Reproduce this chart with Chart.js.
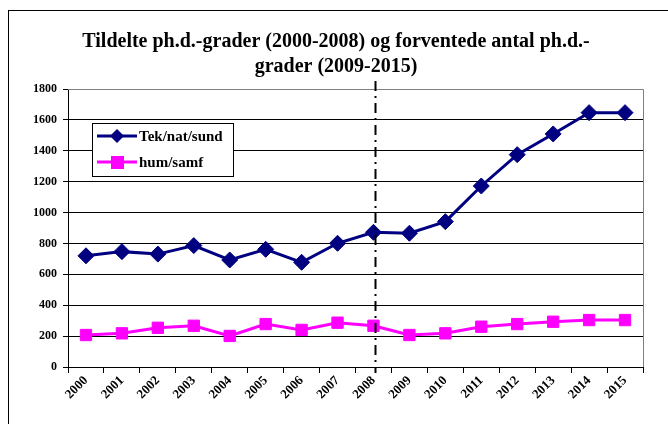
<!DOCTYPE html>
<html>
<head>
<meta charset="utf-8">
<script src="https://cdn.jsdelivr.net/npm/chart.js@4"></script>
<style>
  html, body { margin: 0; padding: 0; background: #fff; }
  #wrap { width: 668px; height: 424px; }
</style>
</head>
<body>
<div id="wrap"><canvas id="phdChart" width="668" height="424"></canvas></div>
<script>
// Years on the x axis
const years = ["2000", "2001", "2002", "2003", "2004", "2005", "2006", "2007",
    "2008", "2009", "2010", "2011", "2012", "2013", "2014", "2015"];
// Tek/nat/sund series
const tekValues = [720, 747, 731, 786, 693, 762, 678, 801, 872, 866, 941, 1172, 1375, 1509, 1647, 1647];
// hum/samf series
const humValues = [207, 218, 254, 267, 201, 278, 240, 287, 267, 207, 218, 261, 278, 293, 304, 304];
const yTicks = [0, 200, 400, 600, 800, 1000, 1200, 1400, 1600, 1800];
const titleLines = ["Tildelte ph.d.-grader (2000-2008) og forventede antal ph.d.-", "grader (2009-2015)"];
const dividerIndex = 8; // 2008: end of actual figures

const serif = "'Liberation Serif', 'Times New Roman', serif";

// frame, title, legend and the dash-dot divider
const decorPlugin = {
    id: "decor",
    beforeDraw(chart) {
        const ctx = chart.ctx;
        ctx.save();
        ctx.fillStyle = "#fff";
        ctx.fillRect(0, 0, chart.width, chart.height);
        ctx.strokeStyle = "#000";
        ctx.lineWidth = 1;
        ctx.strokeRect(8.5, 10.5, 720, 500);
        ctx.fillStyle = "#000";
        ctx.font = "bold 20px " + serif;
        ctx.textAlign = "center";
        ctx.textBaseline = "middle";
        ctx.fillText(titleLines[0], 336, 42);
        ctx.fillText(titleLines[1], 336, 67);
        ctx.restore();
    },
    afterDatasetsDraw(chart) {
        const ctx = chart.ctx;
        const area = chart.chartArea;
        ctx.save();
        // plot border (top and right) in gray
        ctx.strokeStyle = "#808080";
        ctx.lineWidth = 1;
        ctx.beginPath();
        ctx.moveTo(area.left, area.top + 0.5);
        ctx.lineTo(area.right + 0.5, area.top + 0.5);
        ctx.lineTo(area.right + 0.5, area.bottom);
        ctx.stroke();

        // divider line
        const x = Math.round(chart.scales.x.getPixelForValue(dividerIndex)) + 2.5;
        ctx.strokeStyle = "#000";
        ctx.lineWidth = 2;
        ctx.setLineDash([10, 5, 2, 5]);
        ctx.beginPath();
        ctx.moveTo(x, area.top - 8);
        ctx.lineTo(x, area.bottom + 6);
        ctx.stroke();
        ctx.setLineDash([]);

        // legend box
        ctx.fillStyle = "#fff";
        ctx.fillRect(92, 123, 141, 53);
        ctx.lineWidth = 1;
        ctx.strokeStyle = "#000";
        ctx.strokeRect(92.5, 123.5, 141, 53);
        const rows = [
            { ds: chart.data.datasets[0], y: 136 },
            { ds: chart.data.datasets[1], y: 162 },
        ];
        rows.forEach((r) => {
            ctx.strokeStyle = r.ds.borderColor;
            ctx.lineWidth = 3;
            ctx.beginPath();
            ctx.moveTo(97, r.y);
            ctx.lineTo(137, r.y);
            ctx.stroke();
            ctx.fillStyle = r.ds.pointBackgroundColor;
            ctx.beginPath();
            if (r.ds.pointStyle === "rectRot") {
                ctx.moveTo(117, r.y - 7);
                ctx.lineTo(124, r.y);
                ctx.lineTo(117, r.y + 7);
                ctx.lineTo(110, r.y);
                ctx.closePath();
            } else {
                ctx.rect(111, r.y - 6, 13, 13);
            }
            ctx.fill();
            ctx.fillStyle = "#000";
            ctx.font = "bold 15px " + serif;
            ctx.textAlign = "left";
            ctx.textBaseline = "middle";
            ctx.fillText(r.ds.label, 139, r.y + 1);
        });
        ctx.restore();
    },
};

new Chart(document.getElementById("phdChart").getContext("2d"), {
    type: "line",
    data: {
        labels: years,
        datasets: [
            {
                label: "Tek/nat/sund",
                data: tekValues,
                borderColor: "#000080",
                backgroundColor: "#000080",
                pointBackgroundColor: "#000080",
                pointBorderColor: "#000080",
                borderWidth: 3,
                pointStyle: "rectRot",
                pointRadius: 8,
                pointBorderWidth: 1,
                tension: 0,
            },
            {
                label: "hum/samf",
                data: humValues,
                borderColor: "#FF00FF",
                backgroundColor: "#FF00FF",
                pointBackgroundColor: "#FF00FF",
                pointBorderColor: "#FF00FF",
                borderWidth: 3,
                pointStyle: "rect",
                pointRadius: 8,
                pointBorderWidth: 1,
                tension: 0,
            },
        ],
    },
    options: {
        responsive: false,
        animation: false,
        layout: { padding: { top: 89, right: 25, left: 0, bottom: 0 } },
        plugins: {
            legend: { display: false },
            title: { display: false },
            tooltip: { enabled: false },
        },
        scales: {
            x: {
                type: "category",
                offset: true,
                grid: {
                    offset: true,
                    drawOnChartArea: false,
                    drawTicks: true,
                    tickLength: 6,
                    color: "#000",
                },
                border: { color: "#000", width: 1 },
                ticks: {
                    maxRotation: 45,
                    minRotation: 45,
                    color: "#000",
                    font: { family: serif, weight: "bold", size: 13 },
                    padding: 0,
                },
                afterFit(scale) { scale.height = 57; },
            },
            y: {
                min: 0,
                max: 1800,
                afterBuildTicks(scale) { scale.ticks = yTicks.map((v) => ({ value: v })); },
                grid: {
                    color: (c) => (c.tick && c.tick.value === 1800 ? "#808080" : "#000"),
                    tickColor: "#000",
                    tickLength: 5,
                    lineWidth: 1,
                },
                border: { color: "#000", width: 1 },
                ticks: {
                    color: "#000",
                    font: { family: serif, weight: "bold", size: 12 },
                    padding: 6,
                    callback: (v) => String(v),
                },
                afterFit(scale) { scale.width = 68; },
            },
        },
    },
    plugins: [decorPlugin],
});
</script>
</body>
</html>
